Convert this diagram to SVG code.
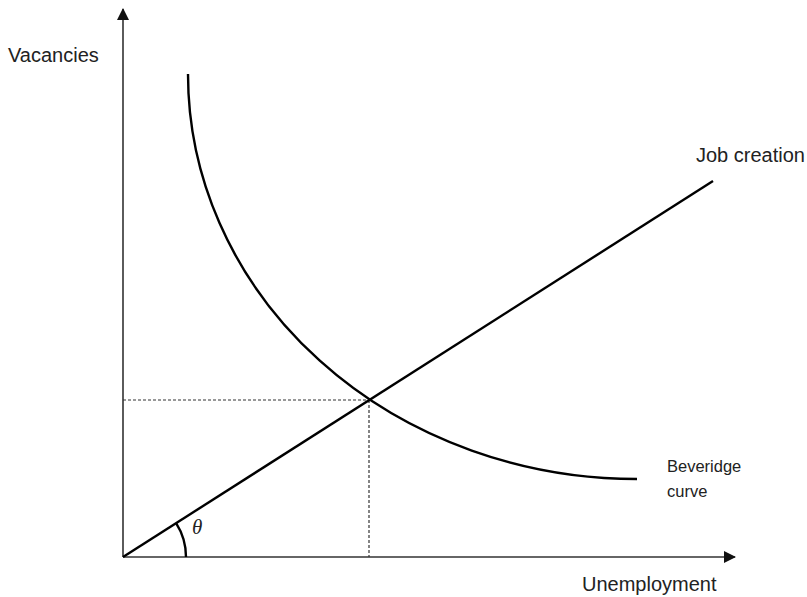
<svg xmlns="http://www.w3.org/2000/svg" width="807" height="597" viewBox="0 0 807 597">
<style>
.lbl{font-family:"Liberation Sans",Arial,sans-serif;font-size:20px;fill:#222}
.sm{font-family:"Liberation Sans",Arial,sans-serif;font-size:16.5px;fill:#222}
.axis{stroke:#333;stroke-width:1.6;fill:none}
.curve{stroke:#000;stroke-width:2.4;fill:none}
.dash{stroke:#333;stroke-width:1.2;stroke-dasharray:3 2;fill:none}
</style>
<defs>
<marker id="arr" viewBox="0 0 12 12" refX="11" refY="6" markerWidth="12" markerHeight="12" markerUnits="userSpaceOnUse" orient="auto">
<path d="M0,0 L12,6 L0,12 Z" fill="#111"/>
</marker>
</defs>
<g id="connectors">
<line class="axis" x1="123" y1="557" x2="123" y2="9" marker-end="url(#arr)"/>
<line class="axis" x1="123" y1="557" x2="735" y2="557" marker-end="url(#arr)"/>
<line class="dash" x1="123" y1="400" x2="369" y2="400"/>
<line class="dash" x1="369" y1="400" x2="369" y2="557"/>
</g>
<g id="job-creation">
<line class="curve" x1="123" y1="557" x2="713" y2="181" stroke-width="2"/>
<text class="lbl" x="696" y="162">Job creation</text>
</g>
<g id="beveridge">
<path class="curve" d="M188,74 A449,405 0 0 0 637,479"/>
<text class="sm" x="667" y="472">Beveridge</text>
<text class="sm" x="667" y="497">curve</text>
</g>
<g id="theta">
<path class="curve" d="M186,557 A63,63 0 0 0 176.1,523.2" stroke-width="2"/>
<text x="192" y="534" font-family="Liberation Serif,serif" font-style="italic" font-size="21" fill="#222">θ</text>
</g>
<g id="labels">
<text class="lbl" x="8" y="62">Vacancies</text>
<text class="lbl" x="582" y="591">Unemployment</text>
</g>
</svg>
